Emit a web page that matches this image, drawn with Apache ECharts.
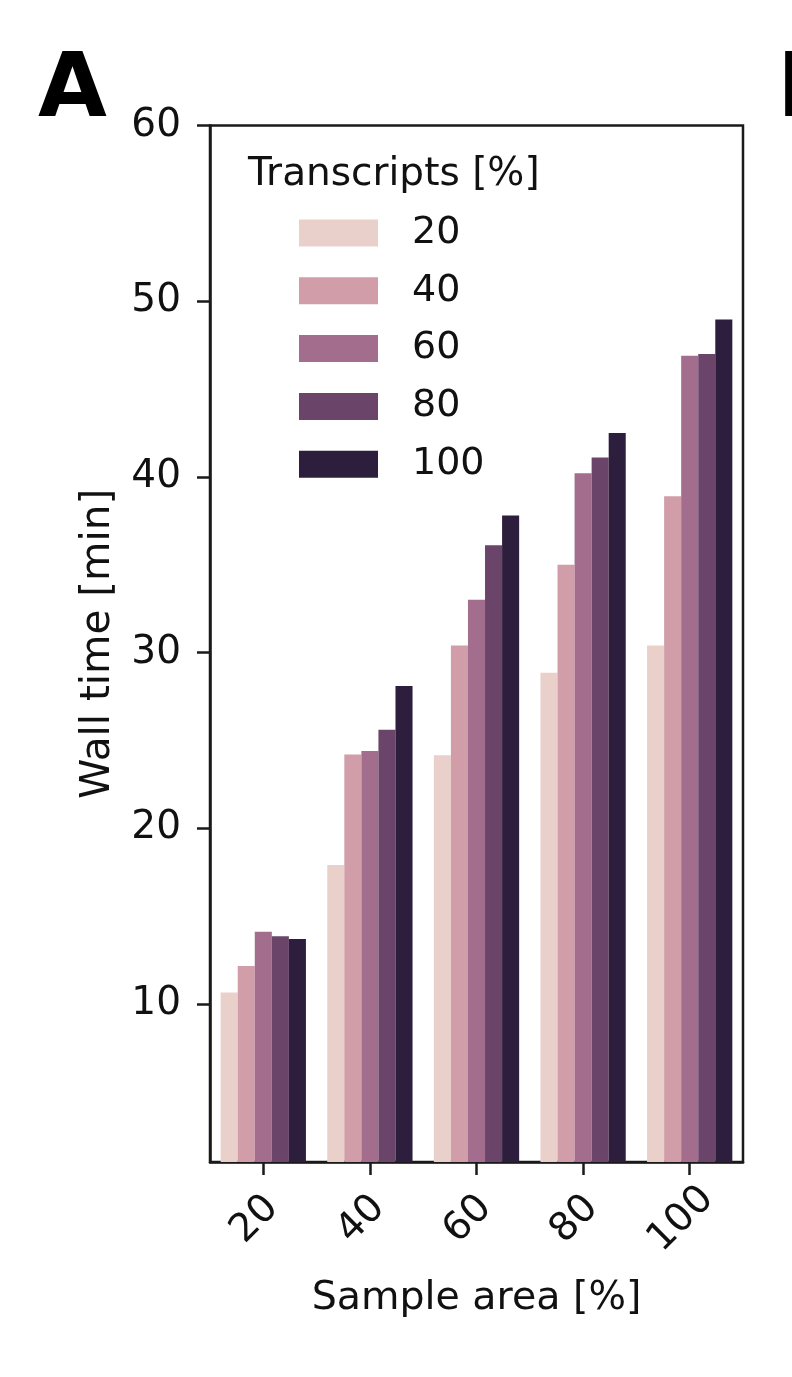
<!DOCTYPE html>
<html><head><meta charset="utf-8">
<script src="https://cdn.jsdelivr.net/npm/echarts@6/dist/echarts.min.js"></script>
<style>html,body{margin:0;padding:0;background:#fff}#c{width:792px;height:1377px}</style>
</head><body><div id="c"></div>
<script>
// Sample area [%] categories
const categories = ['20', '40', '60', '80', '100'];
// Transcripts [%] groups
const transcripts = ['20', '40', '60', '80', '100'];
// Wall time [min] per transcripts level, across sample areas
const wallT20  = [10.65, 17.9, 24.15, 28.85, 30.4];
const wallT40  = [12.15, 24.2, 30.4, 35.0, 38.9];
const wallT60  = [14.1, 24.4, 33.0, 40.2, 46.9];
const wallT80  = [13.85, 25.6, 36.1, 41.1, 47.0];
const wallT100 = [13.7, 28.1, 37.8, 42.5, 48.95];
const yTickValues = [10, 20, 30, 40, 50, 60];

const seriesValues = [wallT20, wallT40, wallT60, wallT80, wallT100];
const colors = ['#e9d0cb', '#d09da9', '#a36d8e', '#6a4469', '#2d1e3e'];
const FONT = 'DejaVu Sans';
const INK = '#111';

const chart = echarts.init(document.getElementById('c'), null, {renderer: 'canvas'});
chart.setOption({
  animation: false,
  backgroundColor: '#fff',
  textStyle: {fontFamily: FONT, color: INK},
  grid: {left: 210, right: 49, top: 125.5, bottom: 215, show: true, borderColor: '#1a1a1a', borderWidth: 2.5, backgroundColor: 'transparent', containLabel: false},
  title: {
    text: 'Transcripts [%]', left: 248, top: 155, padding: 0,
    textStyle: {fontFamily: FONT, fontSize: 39, fontWeight: 'normal', color: INK}
  },
  legend: {
    orient: 'vertical', left: 299, top: 213, padding: 0,
    itemWidth: 79, itemHeight: 27, itemGap: 17.8, icon: 'rect',
    textStyle: {fontFamily: FONT, fontSize: 38, color: INK, lineHeight: 40, padding: [0, 0, 0, 29]},
    data: transcripts
  },
  graphic: [
    {type: 'text', left: 38, top: 48, style: {text: 'A', font: 'bold 89px "DejaVu Sans"', fill: '#000'}},
    {type: 'text', left: 777, top: 48, style: {text: 'B', font: 'bold 89px "DejaVu Sans"', fill: '#000'}}
  ],
  xAxis: {
    type: 'category', data: categories,
    name: 'Sample area [%]', nameLocation: 'middle', nameGap: 117,
    nameTextStyle: {fontFamily: FONT, fontSize: 39.5, color: INK},
    axisLine: {show: true, lineStyle: {color: '#1a1a1a', width: 2.5}},
    axisTick: {show: true, alignWithLabel: true, length: 13, lineStyle: {color: '#1a1a1a', width: 2.5}},
    axisLabel: {fontFamily: FONT, fontSize: 39, color: INK, rotate: 45, align: 'center', verticalAlign: 'middle', margin: 49, interval: 0, padding: [0, 24, 0, 0]},
    splitLine: {show: false}
  },
  yAxis: {
    type: 'value', min: 1, max: 60,
    name: 'Wall time [min]', nameLocation: 'middle', nameGap: 91,
    nameTextStyle: {fontFamily: FONT, fontSize: 40.5, color: INK},
    axisLine: {show: true, lineStyle: {color: '#1a1a1a', width: 2.5}},
    axisTick: {show: true, length: 13, lineStyle: {color: '#1a1a1a', width: 2.5}, customValues: yTickValues},
    axisLabel: {fontFamily: FONT, fontSize: 39, color: INK, margin: 29, customValues: yTickValues},
    splitLine: {show: false}
  },
  series: transcripts.map((t, i) => ({
    name: t, type: 'bar', data: seriesValues[i],
    barCategoryGap: '20%', barGap: '0%',
    itemStyle: {color: colors[i]}
  }))
});
</script></body></html>
